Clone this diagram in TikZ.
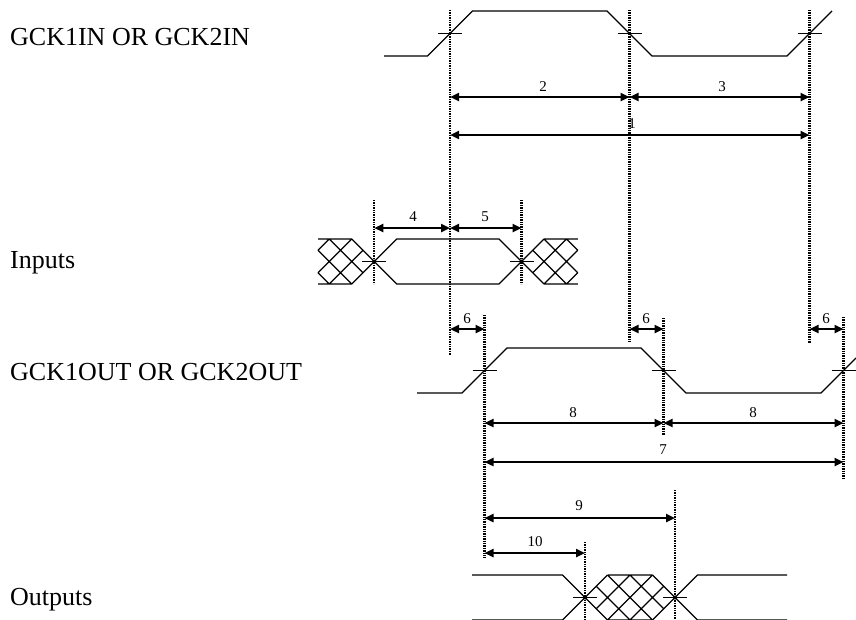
\documentclass[tikz,border=0pt]{standalone}
\usepackage{fontspec}
\setmainfont{Liberation Serif}
\usetikzlibrary{arrows.meta}
\begin{document}
\begin{tikzpicture}[x=1pt,y=-1pt,
  wave/.style={line width=1.3pt, line join=miter},
  guide/.style={line width=2.3pt, dash pattern=on 1.4pt off 1pt},
  dim/.style={line width=2.6pt, {Triangle[length=9pt,width=8pt]}-{Triangle[length=9pt,width=8pt]}},
  num/.style={font=\fontsize{15}{18}\selectfont, anchor=base, inner sep=0pt},
  lab/.style={font=\fontsize{26}{30}\selectfont, anchor=base west, inner sep=0pt},
  tickmark/.style={line width=1.3pt},
  lat/.style={line width=1.3pt}]
\useasboundingbox (0,0) rectangle (856,619);

% ---------- signal names ----------
\node[lab] (nIN)  at (10,45)  {GCK1IN OR GCK2IN};
\node[lab] (nINP) at (10,268) {Inputs};
\node[lab] (nOUT) at (10,380) {GCK1OUT OR GCK2OUT};
\node[lab] (nOPS) at (10,605) {Outputs};

% ---------- vertical guide positions ----------
\coordinate (vA) at (450,10);
\coordinate (vB) at (629.5,10);
\coordinate (vC) at (809.5,10);
\coordinate (vD) at (374.25,200);
\coordinate (vE) at (521.5,200);
\coordinate (vF) at (484.5,315);
\coordinate (vG) at (663.5,318);
\coordinate (vH) at (843.5,317);
\coordinate (vI) at (585,542);
\coordinate (vJ) at (675,490);

\draw[guide] (vA) -- (vA |- 0,355);
\draw[guide] (vB) -- (vB |- 0,342);
\draw[guide] (vC) -- (vC |- 0,343);
\draw[guide] (vD) -- (vD |- 0,284);
\draw[guide] (vE) -- (vE |- 0,284);
\draw[guide] (vF) -- (vF |- 0,558);
\draw[guide] (vG) -- (vG |- 0,435);
\draw[guide] (vH) -- (vH |- 0,478);
\draw[guide] (vI) -- (vI |- 0,619);
\draw[guide] (vJ) -- (vJ |- 0,619);

% ---------- GCK IN waveform ----------
\draw[wave] (384,56) -- (427.5,56) -- (472.5,11) -- (607,11) -- (652,56) -- (787,56) -- (832,11);
\foreach \v in {vA,vB,vC} \draw[tickmark] ([xshift=-12pt]\v |- 0,33.5) -- ([xshift=12pt]\v |- 0,33.5);

% ---------- Inputs waveform ----------
\draw[wave] (351.75,239) -- (396.75,284) -- (499,284) -- (544,239);
\draw[wave] (351.75,284) -- (396.75,239) -- (499,239) -- (544,284);
% left hatch
\begin{scope}[xshift=318pt, yshift=-239pt, x=11.25pt, y=-11.25pt]
  \draw[lat] (0,0) -- (3,0) (0,4) -- (3,4)
    (1,0) -- (0,1) (0,1) -- (3,4) (1,0) -- (4,3)
    (3,0) -- (0,3) (0,3) -- (1,4) (4,1) -- (1,4);
\end{scope}
% right hatch
\begin{scope}[xshift=521.5pt, yshift=-239pt, x=11.25pt, y=-11.25pt]
  \draw[lat] (2,0) -- (5,0) (2,4) -- (5,4)
    (4,0) -- (5,1) (5,1) -- (2,4) (4,0) -- (1,3)
    (2,0) -- (5,3) (5,3) -- (4,4) (1,1) -- (4,4);
\end{scope}
\foreach \v in {vD,vE} {
  \draw[tickmark] ([xshift=-12pt]\v |- 0,261.5) -- ([xshift=12pt]\v |- 0,261.5);
  \fill (\v |- 0,261.5) circle (2pt);
}

% ---------- GCK OUT waveform ----------
\draw[wave] (417,393) -- (462,393) -- (507,348) -- (641,348) -- (686,393) -- (821,393) -- (856,358);
\foreach \v in {vF,vG,vH} \draw[tickmark] ([xshift=-12pt]\v |- 0,370.5) -- ([xshift=12pt]\v |- 0,370.5);

% ---------- Outputs waveform ----------
\draw[wave] (472,575) -- (562.5,575) -- (607.5,620);
\draw[wave] (472,620) -- (562.5,620) -- (607.5,575);
\draw[wave] (652.5,620) -- (697.5,575) -- (787,575);
\draw[wave] (652.5,575) -- (697.5,620) -- (787,620);
\begin{scope}[xshift=585pt, yshift=-575pt, x=11.25pt, y=-11.25pt]
  \draw[lat] (2,0) -- (6,0) (2,4) -- (6,4)
    (4,0) -- (1,3) (6,0) -- (2,4) (7,1) -- (4,4)
    (4,0) -- (7,3) (2,0) -- (6,4) (1,1) -- (4,4);
\end{scope}
\foreach \v in {vI,vJ} {
  \draw[tickmark] ([xshift=-12pt]\v |- 0,597.5) -- ([xshift=12pt]\v |- 0,597.5);
  \fill (\v |- 0,597.5) circle (2pt);
}

% ---------- dimension arrows ----------
\draw[dim] (vA |- 0,97) -- (vB |- 0,97);
\draw[dim] (vB |- 0,97) -- (vC |- 0,97);
\draw[dim] (vA |- 0,135) -- (vC |- 0,135);
\draw[dim] (vD |- 0,228) -- (vA |- 0,228);
\draw[dim] (vA |- 0,228) -- (vE |- 0,228);
\draw[dim] (vA |- 0,329) -- (vF |- 0,329);
\draw[dim] (vB |- 0,329) -- (vG |- 0,329);
\draw[dim] (vC |- 0,329) -- (vH |- 0,329);
\draw[dim] (vF |- 0,423) -- (vG |- 0,423);
\draw[dim] (vG |- 0,423) -- (vH |- 0,423);
\draw[dim] (vF |- 0,462) -- (vH |- 0,462);
\draw[dim] (vF |- 0,518) -- (vJ |- 0,518);
\draw[dim] (vF |- 0,553) -- (vI |- 0,553);

% ---------- dimension labels ----------
\node[num] (l2)  at (543,91)  {2};
\node[num] (l3)  at (722,91)  {3};
\node[num] (l1)  at (632,128) {1};
\node[num] (l4)  at (413,221) {4};
\node[num] (l5)  at (485,221) {5};
\node[num] (l6a) at (467,323) {6};
\node[num] (l6b) at (646,323) {6};
\node[num] (l6c) at (826,323) {6};
\node[num] (l8a) at (573,417) {8};
\node[num] (l8b) at (753,417) {8};
\node[num] (l7)  at (663,454) {7};
\node[num] (l9)  at (579,510) {9};
\node[num] (l10) at (535,546) {10};
\end{tikzpicture}
\end{document}
